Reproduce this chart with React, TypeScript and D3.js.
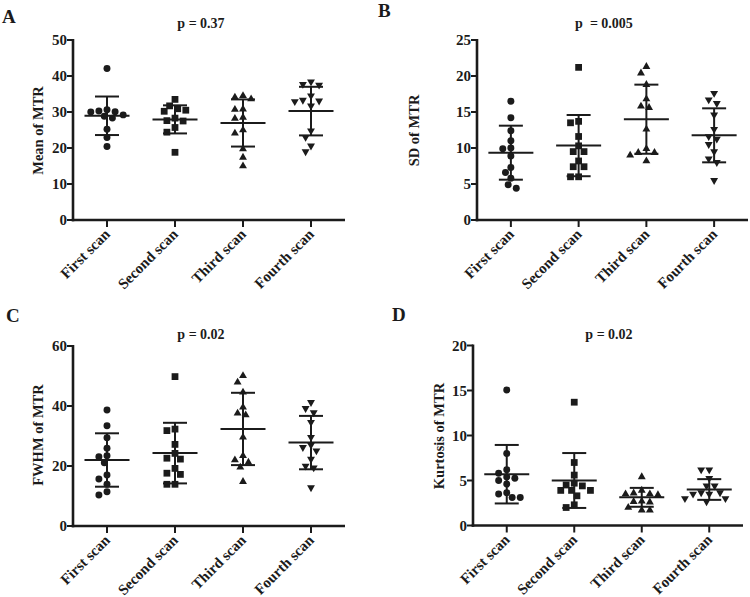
import React from 'react';
import * as d3 from 'd3';

const categories = ['First scan', 'Second scan', 'Third scan', 'Fourth scan'];

// Panel A: Mean of MTR
const meanFirst = [42.1, 30.1, 30.3, 30.0, 30.6, 29.2, 28.3, 28.8, 25.2, 22.9, 20.4];
const meanSecond = [33.5, 31.7, 30.5, 30.9, 30.2, 28.3, 27.6, 27.5, 25.7, 24.4, 18.8];
const meanThird = [34.5, 34.1, 33.6, 30.8, 30.7, 28.5, 28.2, 25.0, 24.1, 19.7, 17.4, 15.0];
const meanFourth = [37.5, 37.7, 38.4, 34.5, 33.1, 31.7, 32.9, 33.3, 24.8, 23.0, 20.6, 19.0];
const meanAvg = [28.95, 27.95, 26.95, 30.25];
const meanSD = [5.35, 3.9, 6.55, 6.75];

// Panel B: SD of MTR
const sdFirst = [16.5, 14.2, 12.4, 11.0, 10.0, 9.9, 8.9, 7.3, 6.6, 5.8, 4.9, 4.4];
const sdSecond = [21.2, 13.5, 13.7, 11.6, 10.3, 9.5, 9.5, 8.2, 7.4, 7.4, 6.0, 6.0];
const sdThird = [21.3, 20.4, 18.8, 16.8, 15.8, 15.6, 12.6, 9.9, 9.35, 9.35, 9.0, 8.2];
const sdFourth = [17.6, 16.7, 16.2, 14.6, 12.6, 11.6, 11.25, 10.5, 9.5, 8.5, 8.0, 5.5];
const sdAvg = [9.35, 10.33, 14.0, 11.76];
const sdSD = [3.75, 4.25, 4.8, 3.75];

// Panel C: FWHM of MTR
const fwhmFirst = [38.7, 33.4, 29.4, 25.9, 23.4, 23.1, 21.1, 17.0, 15.7, 13.9, 10.3, 11.4];
const fwhmSecond = [49.8, 31.8, 32.3, 27.2, 24.2, 22.3, 22.6, 19.2, 17.2, 17.6, 13.9, 13.9];
const fwhmThird = [50.1, 47.9, 44.6, 39.6, 37.0, 37.6, 29.6, 23.4, 19.6, 21.2, 22.0, 14.8];
const fwhmFourth = [41.2, 39.2, 37.8, 34.6, 29.6, 27.0, 26.2, 25.1, 22.3, 20.0, 19.4, 12.8];
const fwhmAvg = [22.0, 24.3, 32.35, 27.8];
const fwhmSD = [8.9, 10.1, 12.05, 8.9];

// Panel D: Kurtosis of MTR
const kurtFirst = [15.06, 8.0, 5.8, 6.2, 5.4, 5.25, 5.0, 4.6, 3.5, 3.65, 3.1, 3.1];
const kurtSecond = [13.7, 7.0, 5.6, 4.7, 4.5, 4.4, 3.9, 3.9, 3.9, 3.3, 2.0, 2.3];
const kurtThird = [5.4, 3.6, 3.4, 3.5, 3.9, 3.5, 2.65, 2.7, 2.6, 2.0, 1.7, 1.7];
const kurtFourth = [6.2, 6.2, 5.25, 4.4, 4.4, 3.65, 3.5, 3.5, 3.65, 3.0, 2.65, 3.0];
const kurtAvg = [5.7, 5.0, 3.13, 4.0];
const kurtSD = [3.25, 3.05, 1.05, 1.15];

const FONT = '"Liberation Serif", "Times New Roman", Times, serif';
const INK = '#1b1b1b';

type PanelCfg = {
  letter: string;
  letterX: number;
  letterY: number;
  title: string;
  titleX: number;
  titleY: number;
  ylabel: string;
  ylabelX: number;
  ylabelY: number;
  ymax: number;
  ticks: number[];
  xr: [number, number];
  y0: number;
  y1: number;
  groups: number[][];
  avg: number[];
  sd: number[];
};

const panels: PanelCfg[] = [
  {
    letter: 'A', letterX: 2, letterY: 22.5,
    title: 'p = 0.37', titleX: 201, titleY: 27.5,
    ylabel: 'Mean of MTR', ylabelX: 43, ylabelY: 130.5,
    ymax: 50, ticks: [0, 10, 20, 30, 40, 50],
    xr: [73, 345], y0: 220, y1: 40,
    groups: [meanFirst, meanSecond, meanThird, meanFourth], avg: meanAvg, sd: meanSD,
  },
  {
    letter: 'B', letterX: 378, letterY: 17,
    title: 'p  = 0.005', titleX: 604, titleY: 27.5,
    ylabel: 'SD of MTR', ylabelX: 419, ylabelY: 130.5,
    ymax: 25, ticks: [0, 5, 10, 15, 20, 25],
    xr: [477, 748], y0: 220, y1: 40,
    groups: [sdFirst, sdSecond, sdThird, sdFourth], avg: sdAvg, sd: sdSD,
  },
  {
    letter: 'C', letterX: 6, letterY: 322,
    title: 'p = 0.02', titleX: 201, titleY: 338.5,
    ylabel: 'FWHM of MTR', ylabelX: 43, ylabelY: 435,
    ymax: 60, ticks: [0, 20, 40, 60],
    xr: [73, 345], y0: 526, y1: 346,
    groups: [fwhmFirst, fwhmSecond, fwhmThird, fwhmFourth], avg: fwhmAvg, sd: fwhmSD,
  },
  {
    letter: 'D', letterX: 392, letterY: 321,
    title: 'p = 0.02', titleX: 609, titleY: 338.5,
    ylabel: 'Kurtosis of MTR', ylabelX: 444, ylabelY: 436,
    ymax: 20, ticks: [0, 5, 10, 15, 20],
    xr: [473, 743], y0: 525.5, y1: 345.5,
    groups: [kurtFirst, kurtSecond, kurtThird, kurtFourth], avg: kurtAvg, sd: kurtSD,
  },
];

const symbolTypes = [d3.symbolCircle, d3.symbolSquare, d3.symbolTriangle, d3.symbolTriangle];
const symbolSizes = [38, 46, 27, 27];
const symbolRot = [0, 0, 0, 180];
const symbolGap = [7, 7.4, 7.8, 7.8];

// simple beeswarm: grid offsets, avoid overlaps
function swarm(ys: number[], step: number, minDist: number): number[] {
  const order = ys.map((v, i) => i).sort((a, b) => ys[a] - ys[b]);
  const offs: number[] = new Array(ys.length).fill(0);
  const placed: { x: number; y: number }[] = [];
  for (const i of order) {
    const py = ys[i];
    for (let k = 0; k < 60; k++) {
      const m = Math.ceil(k / 2) * (k % 2 === 1 ? -1 : 1);
      const ox = m * step;
      const ok = placed.every((p) => Math.hypot(p.x - ox, p.y - py) >= minDist);
      if (ok) {
        offs[i] = ox;
        placed.push({ x: ox, y: py });
        break;
      }
    }
  }
  return offs;
}

function Panel({ cfg }: { cfg: PanelCfg }) {
  const x = d3.scalePoint<string>().domain(categories).range(cfg.xr).padding(0.5);
  const y = d3.scaleLinear().domain([0, cfg.ymax]).range([cfg.y0, cfg.y1]);
  const ax = cfg.xr[0];
  return (
    <g>
      <text x={cfg.letterX} y={cfg.letterY} fontFamily={FONT} fontWeight="bold" fontSize={19} fill={INK}>
        {cfg.letter}
      </text>
      <text x={cfg.titleX} y={cfg.titleY} fontFamily={FONT} fontWeight="bold" fontSize={14} fill={INK}
        textAnchor="middle" style={{ whiteSpace: 'pre' }}>
        {cfg.title}
      </text>
      <text transform={`translate(${cfg.ylabelX},${cfg.ylabelY}) rotate(-90)`} fontFamily={FONT}
        fontWeight="bold" fontSize={14.5} fill={INK} textAnchor="middle">
        {cfg.ylabel}
      </text>
      {/* y axis */}
      <line x1={ax} x2={ax} y1={y(cfg.ymax) - 1} y2={cfg.y0 + 1.3} stroke={INK} strokeWidth={2.6} />
      {cfg.ticks.map((t) => (
        <g key={t}>
          <line x1={ax - 6} x2={ax} y1={y(t)} y2={y(t)} stroke={INK} strokeWidth={2} />
          <text x={ax - 6} y={y(t)} dy="0.34em" textAnchor="end" fontFamily={FONT} fontWeight="bold"
            fontSize={15} fill={INK}>
            {t}
          </text>
        </g>
      ))}
      {/* x axis */}
      <line x1={ax - 1.3} x2={cfg.xr[1]} y1={cfg.y0} y2={cfg.y0} stroke={INK} strokeWidth={2.6} />
      {categories.map((c) => (
        <g key={c}>
          <line x1={x(c)} x2={x(c)} y1={cfg.y0} y2={cfg.y0 + 7} stroke={INK} strokeWidth={2} />
          <text transform={`translate(${(x(c) as number) + 4},${cfg.y0 + 15}) rotate(-45)`} textAnchor="end"
            fontFamily={FONT} fontWeight="bold" fontSize={15} fill={INK}>
            {c}
          </text>
        </g>
      ))}
      {/* points */}
      {cfg.groups.map((vals, gi) => {
        const cx = x(categories[gi]) as number;
        const ys = vals.map((v) => y(v));
        const offs = swarm(ys, 2.7, symbolGap[gi]);
        const path = d3.symbol().type(symbolTypes[gi]).size(symbolSizes[gi])() as string;
        return (
          <g key={gi}>
            {vals.map((v, i) => (
              <path key={i} d={path} fill={INK}
                transform={`translate(${cx + offs[i]},${ys[i]}) rotate(${symbolRot[gi]})`} />
            ))}
          </g>
        );
      })}
      {/* mean and SD */}
      {cfg.avg.map((m, gi) => {
        const cx = x(categories[gi]) as number;
        const hi = y(m + cfg.sd[gi]);
        const lo = y(m - cfg.sd[gi]);
        return (
          <g key={'m' + gi} stroke={INK} strokeWidth={2}>
            <line x1={cx - 22.5} x2={cx + 22.5} y1={y(m)} y2={y(m)} />
            <line x1={cx} x2={cx} y1={hi} y2={lo} />
            <line x1={cx - 12} x2={cx + 12} y1={hi} y2={hi} />
            <line x1={cx - 12} x2={cx + 12} y1={lo} y2={lo} />
          </g>
        );
      })}
    </g>
  );
}

export default function App() {
  return (
    <svg width={750} height={597} viewBox="0 0 750 597" style={{ display: 'block', position: 'absolute', left: 0, top: 0, background: '#fff' }}>
      <rect width={750} height={597} fill="#fff" />
      {panels.map((p) => (
        <Panel key={p.letter} cfg={p} />
      ))}
    </svg>
  );
}
